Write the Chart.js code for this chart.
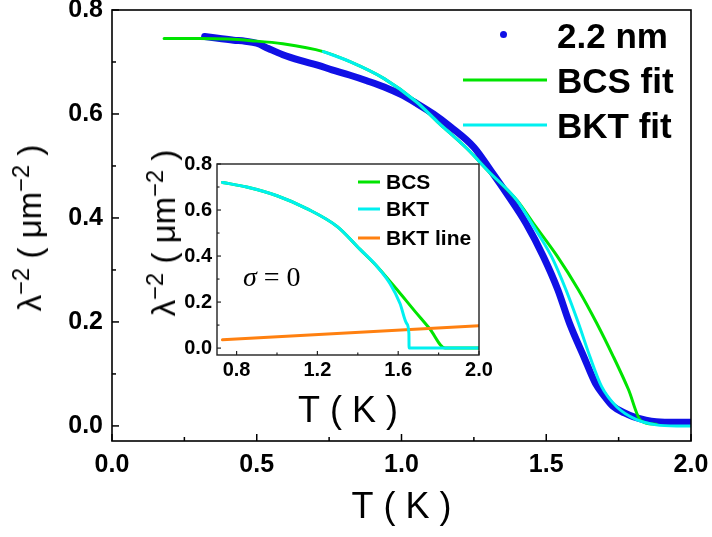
<!DOCTYPE html>
<html>
<head>
<meta charset="utf-8">
<script src="https://cdn.jsdelivr.net/npm/chart.js@4.4.1/dist/chart.umd.min.js"></script>
<style>
  html, body { margin: 0; padding: 0; background: #fff; }
  #wrap { position: relative; width: 712px; height: 537px; font-family: "Liberation Sans", Arial, sans-serif; color: #000; }
  #main { position: absolute; left: 0; top: 0; }
  #inset { position: absolute; left: 130px; top: 140px; }
  .ytitle { position: absolute; white-space: nowrap; font-size: 33px; transform: translate(-50%, -50%) rotate(-90deg); }
  .ytitle sup { font-size: 0.72em; vertical-align: 0.5em; line-height: 0; }
  .leg { position: absolute; white-space: nowrap; font-weight: bold; transform: translateY(-50%); line-height: 1; }
  .sw { position: absolute; height: 3px; transform: translateY(-50%); }
  .sigma { position: absolute; white-space: nowrap; font-family: "Liberation Serif", "DejaVu Serif", serif; font-size: 28px; transform: translateY(-50%); line-height: 1; }
</style>
</head>
<body>
<div id="wrap">
  <canvas id="main" width="712" height="537"></canvas>
  <canvas id="inset" width="370" height="300"></canvas>

  <div class="ytitle" style="left:30px; top:228px;">λ<sup>−2</sup> ( μm<sup>−2</sup> )</div>
  <div class="ytitle" style="left:164px; top:233px;">λ<sup>−2</sup> ( μm<sup>−2</sup> )</div>

  <!-- main legend -->
  <div style="position:absolute; left:500px; top:31px; width:7px; height:7px; border-radius:50%; background:#1010e6;"></div>
  <div class="sw" style="left:463px; top:80px; width:84px; background:#00e400;"></div>
  <div class="sw" style="left:463px; top:125px; width:84px; background:#00f0f0;"></div>
  <div class="leg" style="left:557px; top:35px; font-size:35px;">2.2 nm</div>
  <div class="leg" style="left:557px; top:80px; font-size:35px;">BCS fit</div>
  <div class="leg" style="left:557px; top:125px; font-size:35px;">BKT fit</div>

  <!-- inset legend -->
  <div class="sw" style="left:358px; top:182px; width:22px; background:#00e400;"></div>
  <div class="sw" style="left:358px; top:209px; width:22px; background:#00f0f0;"></div>
  <div class="sw" style="left:358px; top:238px; width:22px; background:#ff8010;"></div>
  <div class="leg" style="left:386px; top:181px; font-size:21px;">BCS</div>
  <div class="leg" style="left:386px; top:208px; font-size:21px;">BKT</div>
  <div class="leg" style="left:386px; top:237px; font-size:21px;">BKT line</div>

  <div class="sigma" style="left:243px; top:277px;"><i>σ</i> = 0</div>
</div>

<script>
// main panel: measured data and fits
const blueT = [0.32, 0.36, 0.42, 0.46, 0.50, 0.54, 0.59, 0.65, 0.71, 0.76, 0.82, 0.88, 0.94, 1.00, 1.05, 1.11, 1.17, 1.25, 1.31, 1.36, 1.43, 1.49, 1.54, 1.58, 1.63, 1.67, 1.70, 1.73, 1.77, 1.80, 1.88, 1.95, 2.00];
const blueV = [0.749, 0.746, 0.742, 0.740, 0.736, 0.726, 0.714, 0.703, 0.694, 0.685, 0.675, 0.664, 0.652, 0.637, 0.621, 0.600, 0.575, 0.536, 0.490, 0.450, 0.390, 0.326, 0.262, 0.198, 0.133, 0.082, 0.058, 0.038, 0.025, 0.018, 0.008, 0.007, 0.007];

const bcsT = [0.18, 0.30, 0.40, 0.48, 0.59, 0.73, 0.82, 0.94, 1.05, 1.13, 1.225, 1.30, 1.40, 1.455, 1.536, 1.611, 1.674, 1.732, 1.784, 1.827, 1.88];
const bcsV = [0.745, 0.745, 0.744, 0.741, 0.735, 0.720, 0.701, 0.668, 0.624, 0.582, 0.534, 0.490, 0.433, 0.390, 0.328, 0.262, 0.198, 0.133, 0.070, 0.010, 0.003];

const bktT = [0.73, 0.82, 0.94, 1.05, 1.13, 1.225, 1.30, 1.40, 1.449, 1.518, 1.568, 1.611, 1.651, 1.691, 1.743, 1.812, 1.88, 1.95, 2.00];
const bktV = [0.720, 0.701, 0.668, 0.624, 0.582, 0.534, 0.490, 0.433, 0.390, 0.326, 0.262, 0.198, 0.133, 0.076, 0.037, 0.012, 0.002, 0.0, 0.0];

// inset: model curves for sigma = 0
const insBcsT = [0.73, 0.85, 1.00, 1.15, 1.30, 1.41, 1.49, 1.53, 1.60, 1.68, 1.757, 1.832, 2.00];
const insBcsV = [0.720, 0.700, 0.662, 0.605, 0.527, 0.430, 0.360, 0.320, 0.248, 0.163, 0.083, 0.0, 0.0];
const insBktT = [0.73, 0.85, 1.00, 1.15, 1.30, 1.41, 1.49, 1.559, 1.609, 1.642, 1.653, 1.654, 2.00];
const insBktV = [0.720, 0.700, 0.662, 0.605, 0.527, 0.430, 0.360, 0.281, 0.194, 0.107, 0.064, 0.0, 0.0];
const lineT = [0.73, 2.00];
const lineV = [0.036, 0.097];

// tick labels
const mainXTicks = [0.0, 0.5, 1.0, 1.5, 2.0];
const mainYTicks = [0.0, 0.2, 0.4, 0.6, 0.8];
const insXTicks = [0.8, 1.2, 1.6, 2.0];
const insYTicks = [0.0, 0.2, 0.4, 0.6, 0.8];

const BLUE = '#1010e6', GREEN = '#00e400', CYAN = '#00f0f0', ORANGE = '#ff8010';
const FONT = '"Liberation Sans", Arial, sans-serif';

function pts(xs, ys) {
    return xs.map((x, i) => ({ x: x, y: ys[i] }));
}

// keep the plot box where it is: no extra room for edge labels
function fixBox(size, horizontal) {
    return s => {
        if (horizontal) s.height = size; else s.width = size;
        s.paddingTop = 0; s.paddingBottom = 0; s.paddingLeft = 0; s.paddingRight = 0;
    };
}

// box frame + inward ticks (major from scale ticks, minor by step)
const frameTicks = {
    id: 'frameTicks',
    beforeDatasetsDraw(chart) {
        const { ctx, chartArea: a } = chart;
        ctx.save();
        ctx.fillStyle = '#fff';
        ctx.fillRect(a.left, a.top, a.width, a.height);
        ctx.restore();
    },
    afterDraw(chart, args, o) {
        const { ctx, chartArea: a, scales } = chart;
        const x = scales.x, y = scales.y;
        ctx.save();
        ctx.strokeStyle = o.color;
        ctx.lineWidth = o.tickWidth;
        const isMajor = (s, v) => s.ticks.some(t => Math.abs(t.value - v) < 1e-6);
        for (let k = Math.ceil(x.min / o.xMinor - 1e-6); k * o.xMinor <= x.max + 1e-6; k++) {
            const v = k * o.xMinor;
            const len = isMajor(x, v) ? o.major : o.minor;
            const px = x.getPixelForValue(v);
            ctx.beginPath();
            ctx.moveTo(px, a.bottom);
            ctx.lineTo(px, a.bottom - len);
            ctx.stroke();
        }
        for (let k = Math.ceil(y.min / o.yMinor - 1e-6); k * o.yMinor <= y.max + 1e-6; k++) {
            const v = k * o.yMinor;
            const len = isMajor(y, v) ? o.major : o.minor;
            const py = y.getPixelForValue(v);
            ctx.beginPath();
            ctx.moveTo(a.left, py);
            ctx.lineTo(a.left + len, py);
            ctx.stroke();
        }
        ctx.lineWidth = o.width;
        ctx.strokeRect(a.left, a.top, a.width, a.height);
        ctx.restore();
    }
};

function lineSet(label, xs, ys, color, width, order) {
    return {
        label: label,
        data: pts(xs, ys),
        showLine: true,
        borderColor: color,
        backgroundColor: color,
        borderWidth: width,
        pointRadius: 0,
        cubicInterpolationMode: 'monotone',
        borderCapStyle: 'round',
        borderJoinStyle: 'round',
        order: order
    };
}

new Chart(document.getElementById('main'), {
    type: 'scatter',
    data: {
        datasets: [
            lineSet('2.2 nm', blueT, blueV, BLUE, 7, 3),
            lineSet('BCS fit', bcsT, bcsV, GREEN, 3, 2),
            lineSet('BKT fit', bktT, bktV, CYAN, 3, 1)
        ]
    },
    options: {
        responsive: false,
        animation: false,
        layout: { padding: { top: 10, right: 21, left: 0, bottom: 0 } },
        plugins: {
            legend: { display: false },
            tooltip: { enabled: false },
            frameTicks: { color: '#000', width: 1.6, tickWidth: 1.5, xMinor: 0.25, yMinor: 0.1, major: 7, minor: 4 }
        },
        scales: {
            x: {
                type: 'linear',
                min: 0,
                max: 2.0,
                afterFit: fixBox(96, true),
                afterBuildTicks: s => { s.ticks = mainXTicks.map(v => ({ value: v })); },
                grid: { display: false, drawTicks: false },
                border: { display: false },
                ticks: { color: '#000', padding: 9, autoSkip: false, maxRotation: 0, font: { family: FONT, size: 25, weight: 'bold' }, callback: v => v.toFixed(1) },
                title: { display: true, text: 'T ( K )', color: '#000', font: { family: FONT, size: 36 }, padding: { top: 0, bottom: 7 } }
            },
            y: {
                type: 'linear',
                min: -0.029,
                max: 0.8,
                afterFit: fixBox(112, false),
                afterBuildTicks: s => { s.ticks = mainYTicks.map(v => ({ value: v })); },
                grid: { display: false, drawTicks: false },
                border: { display: false },
                ticks: { color: '#000', padding: 9, autoSkip: false, font: { family: FONT, size: 25, weight: 'bold' }, callback: v => v.toFixed(1) }
            }
        }
    },
    plugins: [frameTicks]
});

new Chart(document.getElementById('inset'), {
    type: 'scatter',
    data: {
        datasets: [
            lineSet('BCS', insBcsT, insBcsV, GREEN, 3, 3),
            lineSet('BKT line', lineT, lineV, ORANGE, 3, 2),
            lineSet('BKT', insBktT, insBktV, CYAN, 3, 1)
        ]
    },
    options: {
        responsive: false,
        animation: false,
        layout: { padding: { top: 24, right: 21, left: 0, bottom: 0 } },
        plugins: {
            legend: { display: false },
            tooltip: { enabled: false },
            frameTicks: { color: '#222', width: 1.4, tickWidth: 1.2, xMinor: 0.2, yMinor: 0.1, major: 4, minor: 2.5 }
        },
        scales: {
            x: {
                type: 'linear',
                min: 0.703,
                max: 2.0,
                afterFit: fixBox(85, true),
                afterBuildTicks: s => { s.ticks = insXTicks.map(v => ({ value: v })); },
                grid: { display: false, drawTicks: false },
                border: { display: false },
                ticks: { color: '#000', padding: 3, autoSkip: false, maxRotation: 0, font: { family: FONT, size: 20, weight: 'bold' }, callback: v => v.toFixed(1) },
                title: { display: true, text: 'T ( K )', color: '#000', font: { family: FONT, size: 36 }, padding: { top: 0, bottom: 6 } }
            },
            y: {
                type: 'linear',
                min: -0.03,
                max: 0.8,
                afterFit: fixBox(87, false),
                afterBuildTicks: s => { s.ticks = insYTicks.map(v => ({ value: v })); },
                grid: { display: false, drawTicks: false },
                border: { display: false },
                ticks: { color: '#000', padding: 5, autoSkip: false, font: { family: FONT, size: 20, weight: 'bold' }, callback: v => v.toFixed(1) }
            }
        }
    },
    plugins: [frameTicks]
});
</script>
</body>
</html>
